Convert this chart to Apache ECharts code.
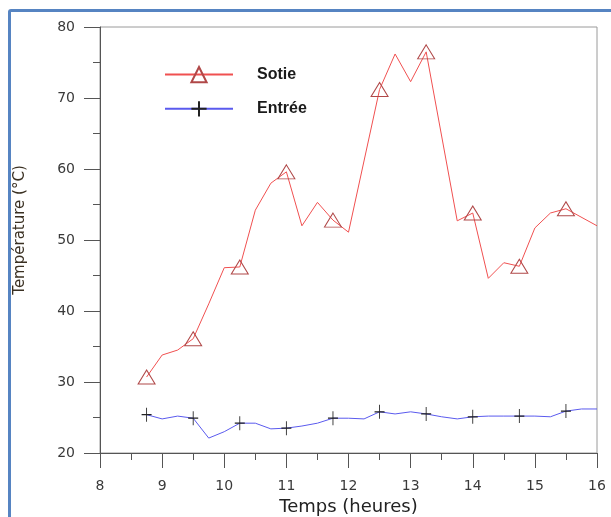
<!DOCTYPE html>
<html>
<head>
<meta charset="utf-8">
<script src="https://cdn.jsdelivr.net/npm/echarts@6/dist/echarts.min.js"></script>
<style>
  html, body { margin: 0; padding: 0; background: #fff; }
  #frame { position: absolute; left: 8px; top: 9px; width: 700px; height: 600px;
           border: 3px solid #5684c2; border-radius: 3px; box-sizing: border-box; }
  #chart { position: absolute; left: 0; top: 0; width: 611px; height: 517px; }
</style>
</head>
<body>
<div id="frame"></div>
<div id="chart"></div>
<script>
// Outlet temperature (Sotie) – hours and °C
const sotieHours = [8.75, 9, 9.25, 9.5, 9.75, 10, 10.25, 10.5, 10.75, 11, 11.25, 11.5, 11.75, 12,
                    12.5, 12.75, 13, 13.25, 13.75, 14, 14.25, 14.5, 14.75, 15, 15.25, 15.5, 16];
const sotieTemps = [30.7, 33.8, 34.5, 36.1, 41.0, 46.1, 46.2, 54.2, 58.0, 59.6, 52.0, 55.3, 52.8, 51.1,
                    71.2, 76.2, 72.3, 76.5, 52.7, 53.8, 44.6, 46.8, 46.3, 51.7, 53.8, 54.4, 52.0];
// Inlet temperature (Entrée)
const entreeHours = [8.75, 9, 9.25, 9.5, 9.75, 10, 10.25, 10.5, 10.75, 11, 11.25, 11.5, 11.75, 12, 12.25,
                     12.5, 12.75, 13, 13.25, 13.5, 13.75, 14, 14.25, 14.5, 14.75, 15, 15.25, 15.5, 15.75, 16];
const entreeTemps = [25.4, 24.8, 25.2, 24.9, 22.1, 23.0, 24.2, 24.2, 23.4, 23.5, 23.8, 24.2, 24.9, 24.9, 24.8,
                     25.8, 25.5, 25.8, 25.5, 25.1, 24.8, 25.1, 25.2, 25.2, 25.2, 25.2, 25.1, 25.9, 26.2, 26.2];
// Hours that carry a marker
const markedHours = [8.75, 9.5, 10.25, 11, 11.75, 12.5, 13.25, 14, 14.75, 15.5];

const xTickLabels = ['8', '9', '10', '11', '12', '13', '14', '15', '16'];
const yTickLabels = ['20', '30', '40', '50', '60', '70', '80'];

function buildData(hours, temps) {
  return hours.map((h, i) => {
    const item = { value: [h, temps[i]] };
    if (markedHours.indexOf(h) < 0) item.symbol = 'none';
    return item;
  });
}

const plusPath = 'path://M5,0L5,14M0,7L10,7';

const chart = echarts.init(document.getElementById('chart'), null, { renderer: 'canvas' });
const font = 'Liberation Sans, Arial, sans-serif';
const tickFont = 'DejaVu Sans, sans-serif';

chart.setOption({
  animation: false,
  backgroundColor: 'transparent',
  textStyle: { fontFamily: font },
  grid: {
    left: 100, right: 14, top: 27, bottom: 64,
    outerBoundsMode: 'none',
    show: true, borderColor: '#9a9a9a', borderWidth: 1, backgroundColor: 'transparent'
  },
  legend: {
    orient: 'vertical',
    left: 164, top: 66, padding: 0,
    itemWidth: 68, itemHeight: 19, itemGap: 17,
    textStyle: { fontFamily: font, fontSize: 16, fontWeight: 'bold', color: '#1a1a1a', padding: [0, 0, 0, 19] },
    data: ['Sotie', 'Entrée']
  },
  xAxis: {
    type: 'value', min: 8, max: 16, interval: 1,
    name: 'Temps (heures)', nameLocation: 'middle', nameGap: 41,
    nameTextStyle: { fontFamily: tickFont, fontSize: 18, color: '#222' },
    axisLine: { lineStyle: { color: '#555', width: 1 } },
    axisTick: { show: true, inside: false, length: 15, lineStyle: { color: '#555' } },
    minorTick: { show: true, splitNumber: 2, length: 7, lineStyle: { color: '#555' } },
    splitLine: { show: false },
    axisLabel: {
      margin: 26, fontSize: 14, color: '#3a3a3a', fontFamily: tickFont,
      formatter: v => xTickLabels[Math.round(v - 8)] ?? ''
    }
  },
  yAxis: {
    type: 'value', min: 20, max: 80, interval: 10,
    name: 'Température (°C)', nameLocation: 'middle', nameGap: 72, nameRotate: 90,
    nameTextStyle: { fontFamily: tickFont, fontSize: 15, color: '#3a3022', padding: [0, 0, 0, 20] },
    axisLine: { show: true, lineStyle: { color: '#555', width: 1 } },
    axisTick: { show: true, inside: false, length: 16, lineStyle: { color: '#555' } },
    minorTick: { show: true, splitNumber: 2, length: 7, lineStyle: { color: '#555' } },
    splitLine: { show: false },
    axisLabel: {
      margin: 25, fontSize: 14, color: '#3a3a3a', fontFamily: tickFont,
      formatter: v => yTickLabels[Math.round((v - 20) / 10)] ?? ''
    }
  },
  series: [
    {
      name: 'Sotie', type: 'line',
      data: buildData(sotieHours, sotieTemps),
      symbol: 'triangle', symbolSize: [17, 14], showAllSymbol: true,
      lineStyle: { color: '#f05050', width: 1 },
      itemStyle: { color: 'rgba(255,255,255,0)', borderColor: '#b04848', borderWidth: 1 },
      emphasis: { disabled: true }
    },
    {
      name: 'Entrée', type: 'line',
      data: buildData(entreeHours, entreeTemps),
      symbol: plusPath, symbolSize: [10, 14], showAllSymbol: true,
      lineStyle: { color: '#5a5aee', width: 1 },
      itemStyle: { color: 'rgba(255,255,255,0)', borderColor: '#222', borderWidth: 1 },
      emphasis: { disabled: true }
    }
  ]
});
</script>
</body>
</html>
